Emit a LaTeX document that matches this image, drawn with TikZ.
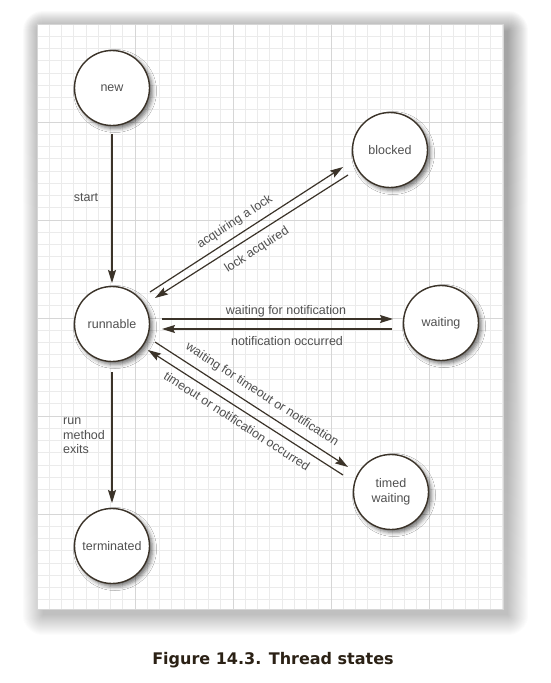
\documentclass[tikz,border=0pt]{standalone}
\usepackage{fontspec}
\setmainfont{Liberation Sans}
\newfontfamily\capfont{DejaVu Sans}
\usetikzlibrary{arrows.meta,shadows.blur}
\definecolor{ink}{HTML}{3B3329}
\definecolor{labelgray}{HTML}{505050}
\definecolor{minorgrid}{HTML}{EBEBEB}
\definecolor{majorgrid}{HTML}{D6D6D6}
\definecolor{captionbrown}{HTML}{2B2115}
\definecolor{shade}{HTML}{3A3530}
\tikzset{
  state/.style={circle, draw=ink, line width=1.4pt, fill=white,
    minimum size=75pt, inner sep=0pt, align=center,
    font=\fontsize{12.5}{14.5}\selectfont, text=labelgray,
    blur shadow={shadow xshift=3pt, shadow yshift=-3pt,
      shadow blur radius=4pt, shadow opacity=55}},
  trans/.style={draw=ink, line width=1.2pt,
    -{Stealth[length=13pt,width=8pt,inset=2pt]}},
  lbl/.style={font=\fontsize{12.5}{14.5}\selectfont, text=labelgray, inner sep=0pt},
  minorline/.style={draw=minorgrid, line width=0.6pt},
  majorline/.style={draw=majorgrid, line width=0.9pt},
}
\begin{document}
\begin{tikzpicture}[x=1pt,y=-1pt]
\useasboundingbox (0,0) rectangle (550,683);
\fill[white] (0,0) rectangle (550,683);

% soft shadow under the sheet, built from stacked translucent layers
\foreach \e in {0,...,20}
  \fill[shade, opacity=0.013, rounded corners=\e pt]
    ({37+6-\e},{24+7-\e}) rectangle ({503+5+\e},{609+6+\e});

% graph paper sheet
\fill[white] (37,24) rectangle (503,609);
\begin{scope}
  \clip (37,24) rectangle (503,609);
  \foreach \i in {0,...,38}
    \draw[minorline] ({37+12.25*\i},24) -- ({37+12.25*\i},609);
  \foreach \j in {0,...,48}
    \draw[minorline] (37,{24+12.25*\j}) -- (503,{24+12.25*\j});
  \foreach \i in {1,...,4}
    \draw[majorline] ({37+98*\i},24) -- ({37+98*\i},609);
  \foreach \j in {1,...,5}
    \draw[majorline] (37,{24+98*\j}) -- (503,{24+98*\j});
\end{scope}
\draw[majorgrid, line width=0.6pt] (37,24) rectangle (503,609);

% states
\node[state] (new)        at (112,88)  {new};
\node[state] (runnable)   at (112,324) {runnable};
\node[state] (blocked)    at (390,150) {blocked};
\node[state] (waiting)    at (441,323) {waiting};
\node[state] (timed)      at (391,492) {timed\\waiting};
\node[state] (terminated) at (112,546) {terminated};

% transitions
\draw[trans] ([shift={(0,46)}]new.center) -- ([shift={(0,-41)}]runnable.center);
\draw[trans] ([shift={(0,48)}]runnable.center) -- ([shift={(0,-43)}]terminated.center);
\draw[trans] ([shift={(38,-32)}]runnable.center) -- ([shift={(-47,17)}]blocked.center);
\draw[trans] ([shift={(-42,25)}]blocked.center) -- ([shift={(43,-26)}]runnable.center);
\draw[trans] ([shift={(50,-5)}]runnable.center) -- ([shift={(-48,-4)}]waiting.center);
\draw[trans] ([shift={(-49,6)}]waiting.center) -- ([shift={(50,5)}]runnable.center);
\draw[trans] ([shift={(43,18)}]runnable.center) -- ([shift={(-43,-25)}]timed.center);
\draw[trans] ([shift={(-48,-17)}]timed.center) -- ([shift={(36,26)}]runnable.center);

% transition labels
\node[lbl] (lstart) at (86,198) {start};
\node[lbl, align=left, anchor=west] (lexit) at (63,436) {run\\method\\exits};
\node[lbl, rotate=33] (lacq) at (235,222) {acquiring a lock};
\node[lbl, rotate=33] (lgot) at (257,250) {lock acquired};
\node[lbl] (lwait) at (286,311) {waiting for notification};
\node[lbl] (lnote) at (287,341) {notification occurred};
\node[lbl, rotate=-33] (ltwait) at (262,395) {waiting for timeout or notification};
\node[lbl, rotate=-33] (ltout) at (237,421) {timeout or notification occurred};

% caption
\node[font=\capfont\bfseries\fontsize{16}{19}\selectfont, text=captionbrown]
  (caption) at (273,660) {Figure 14.3. Thread states};
\end{tikzpicture}
\end{document}
